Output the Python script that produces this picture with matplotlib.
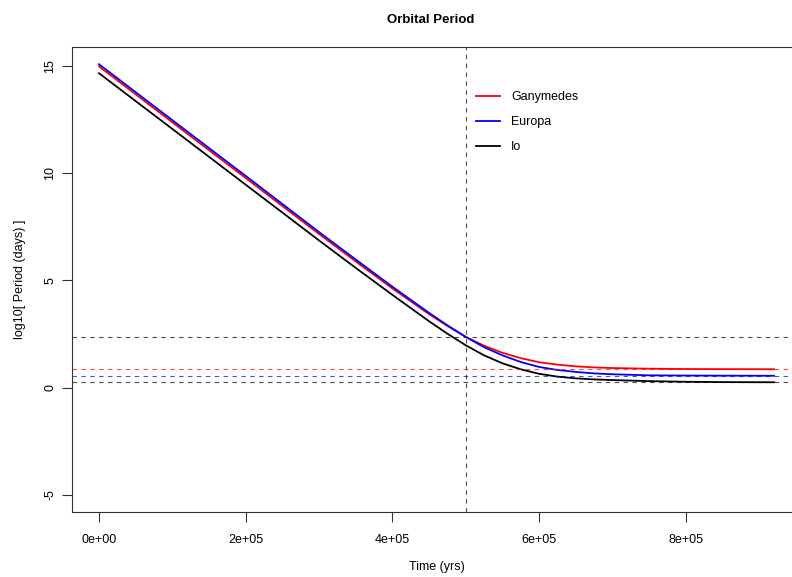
import matplotlib
matplotlib.use('Agg')
import matplotlib.pyplot as plt

# -----------------------------------------------------------------------------
# values

time_yrs = [0, 100000, 200000, 300000, 350000, 400000, 450000, 475000,
            500000, 525000, 550000, 575000, 600000, 625000, 650000, 675000,
            700000, 750000, 800000, 850000, 920000]

ganymedes = [14.98, 12.37, 9.77, 7.16, 5.88, 4.62, 3.42, 2.87,
             2.36, 1.95, 1.62, 1.37, 1.18, 1.07, 0.99, 0.94,
             0.91, 0.88, 0.865, 0.86, 0.855]
europa = [15.08, 12.47, 9.87, 7.25, 5.97, 4.70, 3.48, 2.90,
          2.36, 1.88, 1.50, 1.19, 0.96, 0.82, 0.73, 0.66,
          0.62, 0.57, 0.56, 0.555, 0.55]
io = [14.66, 12.06, 9.46, 6.86, 5.58, 4.32, 3.09, 2.51,
      1.97, 1.50, 1.13, 0.85, 0.64, 0.51, 0.43, 0.38,
      0.35, 0.30, 0.27, 0.255, 0.248]

# present day periods (log10 days) and the crossing point
hlines = [(0.855, 'red'), (0.55, 'blue'), (0.248, 'black'), (2.36, 'black')]
vline_t = 500000

x_ticks = [0, 200000, 400000, 600000, 800000]
x_ticklabels = ['0e+00', '2e+05', '4e+05', '6e+05', '8e+05']
y_ticks = [-5, 0, 5, 10, 15]

# -----------------------------------------------------------------------------

plt.rcParams['font.family'] = ['Liberation Sans', 'DejaVu Sans']

fig = plt.figure(figsize=(7.92, 5.77), dpi=100)
# plot region runs a little past the right edge of the picture
ax = fig.add_axes([72 / 792, 65 / 577, 729 / 792, 465 / 577])

ax.plot(time_yrs, ganymedes, color='red', lw=1.3, label='Ganymedes')
ax.plot(time_yrs, europa, color='blue', lw=1.3, label='Europa')
ax.plot(time_yrs, io, color='black', lw=1.3, label='Io')

for y, c in hlines:
    ax.axhline(y, color=c, lw=0.8, ls=(0, (4, 4)), alpha=0.7)
ax.axvline(vline_t, color='black', lw=0.8, ls=(0, (4, 4)), alpha=0.7)

# R style 4% padding around the data range
x0, x1 = 0, 920000
y0, y1 = -5, 15.08
ax.set_xlim(x0 - 0.04 * (x1 - x0), x1 + 0.04 * (x1 - x0))
ax.set_ylim(y0 - 0.04 * (y1 - y0), y1 + 0.04 * (y1 - y0))

ax.set_xticks(x_ticks)
ax.set_xticklabels(x_ticklabels)
ax.set_yticks(y_ticks)
ax.set_yticklabels([str(v) for v in y_ticks], rotation=90, va='center')
ax.tick_params(axis='both', direction='out', length=7, width=0.8,
               labelsize=9, color='#333333')
ax.tick_params(axis='x', pad=9)
ax.tick_params(axis='y', pad=4.5)

for s in ax.spines.values():
    s.set_linewidth(0.8)
    s.set_color('#333333')
ax.spines['right'].set_visible(False)

ax.set_xlabel('Time (yrs)', fontsize=9)
ax.xaxis.set_label_coords(0.5, -0.105)
ax.set_ylabel('log10[ Period (days) ]', fontsize=9)
ax.yaxis.set_label_coords(-0.063, 0.5)

ax.text(0.4925, 1.058, 'Orbital Period', transform=ax.transAxes,
        ha='center', va='center', fontsize=9.5, fontweight='bold')

ax.legend(loc='upper left', bbox_to_anchor=(0.554, 0.905), frameon=False,
          fontsize=9, handlelength=1.9, handletextpad=0.94,
          labelspacing=1.05, borderpad=0, borderaxespad=0)

fig.savefig('out.png', dpi=100)
